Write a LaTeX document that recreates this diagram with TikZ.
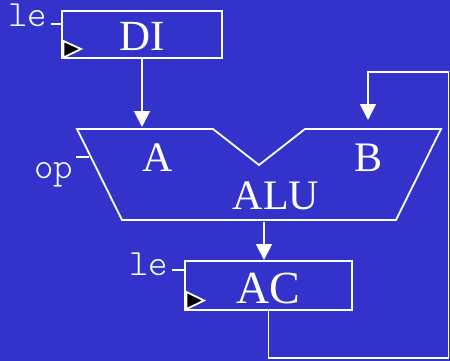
\documentclass[tikz,border=0pt]{standalone}
\usepackage{fontspec}
\setmainfont{Liberation Serif}
\usetikzlibrary{arrows.meta}
\definecolor{slide}{HTML}{3333CC}
\tikzset{
	wire/.style={draw=white, line width=1.8pt},
	flow/.style={wire, -{Triangle[length=16pt,width=16pt]}},
	reg/.style={draw=white, line width=1.8pt, text=white, inner sep=0pt, font=\fontsize{43}{43}\selectfont},
	clockmark/.style={draw=white, fill=black, line width=1.8pt, line join=miter},
	port/.style={text=white, inner sep=0pt, anchor=base, font=\fontsize{42}{42}\selectfont},
	ctl/.style={text=white, inner sep=0pt, anchor=base, font=\ttfamily\fontseries{l}\fontsize{37}{37}\selectfont}
}
\begin{document}
\begin{tikzpicture}[x=1pt, y=-1pt]
	\useasboundingbox (0,0) rectangle (450,361);
	\fill[slide] (0,0) rectangle (450,361);

	\node[reg, minimum width=160pt, text height=39.5pt, text depth=7.5pt] (di) at (142,34.5) {DI};
	\node[reg, minimum width=167pt, text height=42pt, text depth=7pt, font=\fontsize{46}{46}\selectfont] (ac) at (268.5,285.5) {AC};

	\coordinate (alutl) at (77,129);
	\coordinate (alun1) at (213,129);
	\coordinate (alun2) at (259,165);
	\coordinate (alun3) at (305,129);
	\coordinate (alutr) at (441,129);
	\coordinate (alubr) at (396,220);
	\coordinate (alubl) at (122,220);
	\draw[wire, line join=miter] (alutl) -- (alun1) -- (alun2) -- (alun3) -- (alutr) -- (alubr) -- (alubl) -- cycle;

	\node[port] (a) at (158,171) {A};
	\node[port] (b) at (369,171) {B};
	\node[port] (alu) at (276,209) {ALU};

	\node[ctl] (ledi) at (28,27) {le};
	\node[ctl] (op) at (53.5,178) {op};
	\node[ctl] (leac) at (148.5,275) {le};

	\coordinate (ledie) at (51,24);
	\coordinate (lediw) at (di.west |- ledie);
	\coordinate (ope) at (76,157);
	\coordinate (opw) at (89,157);
	\coordinate (leace) at (172,270);
	\coordinate (leacw) at (ac.west |- leace);
	\draw[wire, line width=1.2pt] (ledie) -- (lediw);
	\draw[wire, line width=1.2pt] (ope) -- (opw);
	\draw[wire, line width=1.2pt] (leace) -- (leacw);

	% clock marks
	\draw[clockmark] (63.5,41) -- (81,49) -- (63.5,57.5) -- cycle;
	\draw[clockmark] (186.5,292) -- (204,300.5) -- (186.5,309) -- cycle;

	\coordinate (ina) at (142,127);
	\coordinate (inb) at (368,120);
	\coordinate (outalu) at (264,222);
	\coordinate (inac) at (264,260);
	\coordinate (fb1) at (268.5,358);
	\coordinate (fb2) at (448.5,358);
	\coordinate (fb3) at (448.5,72);
	\coordinate (fb4) at (368,72);

	\draw[flow] (di.south) -- (ina);
	\draw[flow] (outalu) -- (inac);
	\draw[flow] (ac.south) -- (fb1) -- (fb2) -- (fb3) -- (fb4) -- (inb);
\end{tikzpicture}
\end{document}
